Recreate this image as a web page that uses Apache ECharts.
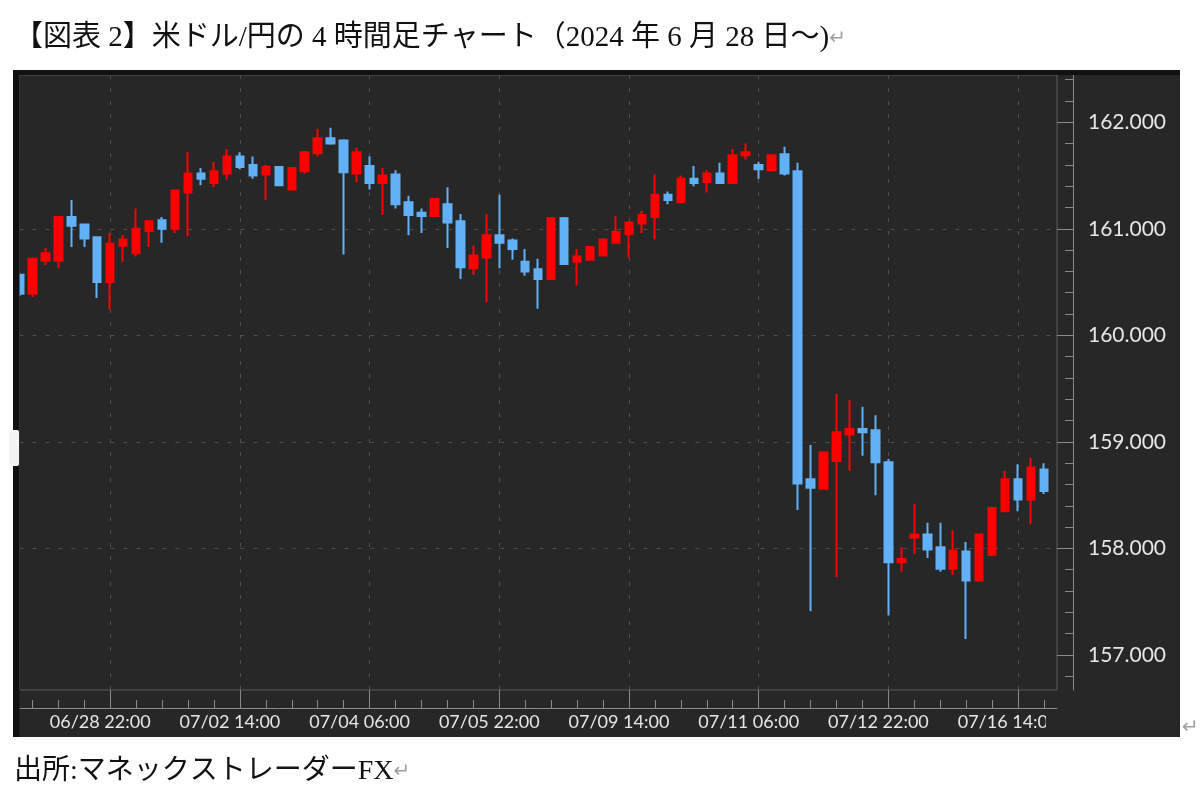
<!DOCTYPE html>
<html>
<head>
<meta charset="utf-8">
<title>米ドル/円 4時間足チャート</title>
<script src="https://cdn.jsdelivr.net/npm/echarts@6.0.0/dist/echarts.min.js"></script>
<style>
  html, body { margin: 0; padding: 0; background: #fff; }
  #chart { width: 1200px; height: 798px; }
</style>
</head>
<body>
<div id="chart"></div>
<script>
// 4時間足の時刻 (JST)
var times = [
  '06/27 18:00', '06/27 22:00', '06/28 02:00', '06/28 06:00', '06/28 10:00', '06/28 14:00', '06/28 18:00', '06/28 22:00',
  '06/29 02:00', '07/01 06:00', '07/01 10:00', '07/01 14:00', '07/01 18:00', '07/01 22:00', '07/02 02:00', '07/02 06:00',
  '07/02 10:00', '07/02 14:00', '07/02 18:00', '07/02 22:00', '07/03 02:00', '07/03 06:00', '07/03 10:00', '07/03 14:00',
  '07/03 18:00', '07/03 22:00', '07/04 02:00', '07/04 06:00', '07/04 10:00', '07/04 14:00', '07/04 18:00', '07/04 22:00',
  '07/05 02:00', '07/05 06:00', '07/05 10:00', '07/05 14:00', '07/05 18:00', '07/05 22:00', '07/06 02:00', '07/08 06:00',
  '07/08 10:00', '07/08 14:00', '07/08 18:00', '07/08 22:00', '07/09 02:00', '07/09 06:00', '07/09 10:00', '07/09 14:00',
  '07/09 18:00', '07/09 22:00', '07/10 02:00', '07/10 06:00', '07/10 10:00', '07/10 14:00', '07/10 18:00', '07/10 22:00',
  '07/11 02:00', '07/11 06:00', '07/11 10:00', '07/11 14:00', '07/11 18:00', '07/11 22:00', '07/12 02:00', '07/12 06:00',
  '07/12 10:00', '07/12 14:00', '07/12 18:00', '07/12 22:00', '07/13 02:00', '07/15 06:00', '07/15 10:00', '07/15 14:00',
  '07/15 18:00', '07/15 22:00', '07/16 02:00', '07/16 06:00', '07/16 10:00', '07/16 14:00', '07/16 18:00', '07/16 22:00'
];

var opens = [
  160.57, 160.39, 160.70, 160.70, 161.11, 161.04, 160.92, 160.50, 160.84, 160.77,
  160.98, 161.08, 161.00, 161.34, 161.52, 161.43, 161.52, 161.68, 161.60, 161.51,
  161.58, 161.37, 161.54, 161.71, 161.85, 161.83, 161.52, 161.59, 161.43, 161.51,
  161.25, 161.15, 161.12, 161.23, 161.07, 160.63, 160.73, 160.94, 160.89, 160.69,
  160.62, 160.53, 161.10, 160.69, 160.71, 160.75, 160.87, 160.95, 161.05, 161.11,
  161.32, 161.25, 161.47, 161.44, 161.52, 161.43, 161.69, 161.60, 161.55, 161.70,
  161.54, 158.65, 158.56, 158.82, 159.07, 159.12, 159.11, 158.81, 157.87, 158.10,
  158.13, 158.01, 157.81, 157.97, 157.70, 157.94, 158.35, 158.65, 158.46, 158.74
];
var closes = [
  160.39, 160.72, 160.77, 161.11, 161.03, 160.91, 160.50, 160.86, 160.90, 161.00,
  161.07, 161.00, 161.36, 161.52, 161.47, 161.54, 161.68, 161.58, 161.50, 161.58,
  161.41, 161.57, 161.72, 161.85, 161.80, 161.53, 161.72, 161.43, 161.50, 161.23,
  161.13, 161.12, 161.28, 161.06, 160.64, 160.75, 160.94, 160.87, 160.81, 160.60,
  160.53, 161.10, 160.67, 160.74, 160.83, 160.90, 160.97, 161.06, 161.13, 161.32,
  161.27, 161.47, 161.43, 161.52, 161.43, 161.69, 161.72, 161.56, 161.69, 161.52,
  158.61, 158.57, 158.90, 159.09, 159.12, 159.09, 158.81, 157.87, 157.90, 158.13,
  157.99, 157.81, 157.98, 157.70, 158.13, 158.38, 158.65, 158.46, 158.76, 158.54
];
var lows = [
  160.37, 160.36, 160.66, 160.63, 160.83, 160.83, 160.35, 160.24, 160.69, 160.74,
  160.83, 160.87, 160.96, 160.93, 161.41, 161.39, 161.46, 161.56, 161.47, 161.27,
  161.40, 161.36, 161.52, 161.68, 161.79, 160.76, 161.44, 161.37, 161.13, 161.19,
  160.94, 160.96, 161.12, 160.82, 160.53, 160.57, 160.31, 160.63, 160.71, 160.56,
  160.25, 160.52, 160.66, 160.47, 160.70, 160.74, 160.86, 160.73, 160.96, 160.90,
  161.23, 161.24, 161.40, 161.34, 161.43, 161.43, 161.65, 161.47, 161.54, 161.50,
  158.36, 157.41, 158.55, 157.73, 158.73, 158.87, 158.50, 157.37, 157.78, 157.95,
  157.91, 157.78, 157.75, 157.15, 157.70, 157.93, 158.35, 158.35, 158.23, 158.51
];
var highs = [
  160.58, 160.72, 160.82, 161.12, 161.27, 161.05, 160.93, 160.96, 160.94, 161.19,
  161.08, 161.11, 161.36, 161.72, 161.57, 161.63, 161.75, 161.72, 161.68, 161.60,
  161.59, 161.58, 161.73, 161.94, 161.95, 161.84, 161.76, 161.68, 161.57, 161.55,
  161.31, 161.19, 161.28, 161.39, 161.14, 160.84, 161.14, 161.32, 160.91, 160.81,
  160.72, 161.11, 161.11, 160.81, 160.83, 160.90, 161.12, 161.07, 161.17, 161.51,
  161.35, 161.50, 161.59, 161.55, 161.62, 161.75, 161.80, 161.63, 161.70, 161.77,
  161.62, 158.97, 158.90, 159.45, 159.39, 159.33, 159.25, 158.84, 158.01, 158.42,
  158.24, 158.24, 158.17, 158.06, 158.14, 158.39, 158.73, 158.79, 158.85, 158.80
];

var yTicks = [157, 158, 159, 160, 161, 162];
var yMin = 156.671;
var yMax = 162.444;

var upColor = '#ff0000';
var downColor = '#62b1f6';
var panelColor = '#272727';
var axisColor = '#8a8a8a';
var gridColor = '#4e4e4e';

// 目盛り: 10本ごとに時刻ラベル、2本ごとに小目盛
var firstLabel = 7;
function isMajor(idx) { return idx >= firstLabel && (idx - firstLabel) % 10 === 0; }
function isMinor(idx) { return idx % 2 === 1; }

var minorY = [];
for (var v = 1568; v <= 1624; v += 2) minorY.push(v / 10);

var candles = opens.map(function (o, i) {
  return [o, closes[i], lows[i], highs[i]];
});
// 右端の余白用に空のカテゴリを1つ追加
var cats = times.concat(['']);
candles.push('-');

var chart = echarts.init(document.getElementById('chart'));

var option = {
  backgroundColor: '#ffffff',
  animation: false,
  title: {
    text: '【図表 2】米ドル/円の 4 時間足チャート（2024 年 6 月 28 日～){m|↵}',
    left: 14,
    top: 24,
    padding: 0,
    textStyle: {
      fontFamily: "'Liberation Serif', 'Noto Sans CJK JP', serif",
      fontSize: 29,
      fontWeight: 'normal',
      color: '#111',
      rich: {
        m: { fontSize: 20, color: '#a0a0a0', fontFamily: 'DejaVu Sans' }
      }
    }
  },
  grid: {
    left: 19.4,
    right: 143,
    top: 75,
    bottom: 108,
    show: true,
    borderColor: '#5c5c5c',
    borderWidth: 1,
    backgroundColor: 'transparent'
  },
  xAxis: [{
    type: 'category',
    data: cats,
    boundaryGap: false,
    position: 'bottom',
    offset: 18,
    axisLine: { show: true, onZero: false, lineStyle: { color: axisColor, width: 1 } },
    axisTick: { show: true, inside: true, length: 18, interval: isMajor, lineStyle: { color: axisColor } },
    axisLabel: {
      interval: isMajor,
      color: '#e6e6e6',
      fontFamily: 'Lato',
      fontSize: 18,
      margin: 5,
      padding: [0, 20, 0, 0],
      hideOverlap: false
    },
    splitLine: {
      show: true,
      interval: isMajor,
      lineStyle: { color: gridColor, type: [4, 9], width: 1 }
    }
  }, {
    type: 'category',
    data: cats,
    boundaryGap: false,
    position: 'bottom',
    offset: 18,
    axisLine: { show: false, onZero: false },
    axisTick: { show: true, inside: true, length: 8, interval: isMinor, lineStyle: { color: axisColor } },
    axisLabel: { show: false },
    splitLine: { show: false }
  }],
  yAxis: [{
    type: 'value',
    position: 'right',
    offset: 16,
    min: yMin,
    max: yMax,
    scale: true,
    axisLine: { show: true, lineStyle: { color: axisColor, width: 1 } },
    axisTick: { show: true, inside: true, length: 16, customValues: yTicks, lineStyle: { color: axisColor } },
    axisLabel: {
      customValues: yTicks,
      formatter: function (val) { return val.toFixed(3); },
      color: '#e6e6e6',
      fontFamily: 'Lato',
      fontSize: 21,
      margin: 15
    },
    splitLine: {
      show: true,
      showMinLine: false,
      showMaxLine: false,
      lineStyle: { color: gridColor, type: [4, 9], width: 1 }
    }
  }, {
    type: 'value',
    position: 'right',
    offset: 16,
    min: yMin,
    max: yMax,
    scale: true,
    axisLine: { show: false },
    axisTick: { show: true, inside: true, length: 8, customValues: minorY, lineStyle: { color: axisColor } },
    axisLabel: { show: false },
    splitLine: { show: false }
  }],
  series: [{
    name: 'USD/JPY',
    type: 'candlestick',
    data: candles,
    barWidth: 8,
    clip: true,
    itemStyle: {
      color: upColor,
      color0: downColor,
      borderColor: upColor,
      borderColor0: downColor,
      borderWidth: 2
    }
  }],
  graphic: [
    { type: 'rect', z: -10, silent: true, shape: { x: 13, y: 70, width: 1167, height: 667 }, style: { fill: panelColor } },
    // 最終ラベルの右側は表示されない
    { type: 'rect', z: 100, silent: true, shape: { x: 1046, y: 710, width: 132, height: 27 }, style: { fill: panelColor } },
    { type: 'rect', z: 100, silent: true, shape: { x: 13, y: 70, width: 1167, height: 5 }, style: { fill: '#111' } },
    { type: 'rect', z: 100, silent: true, shape: { x: 13, y: 70, width: 6.5, height: 667 }, style: { fill: '#111' } },
    { type: 'rect', z: 101, silent: true, shape: { x: 9, y: 430, width: 10, height: 36, r: 2 }, style: { fill: '#f4f4f4' } },
    {
      type: 'text', z: 100, silent: true,
      style: { x: 1182, y: 728, text: '↵', fill: '#a0a0a0', font: '20px "DejaVu Sans"', verticalAlign: 'middle' }
    },
    {
      type: 'text', z: 100, silent: true,
      style: {
        x: 14, y: 772, verticalAlign: 'middle',
        text: '出所:マネックストレーダーFX{m|↵}',
        fill: '#111',
        font: "28px 'Liberation Serif', 'Noto Sans CJK JP', serif",
        rich: { m: { fontSize: 20, fill: '#a0a0a0', fontFamily: 'DejaVu Sans' } }
      }
    }
  ]
};

chart.setOption(option);
</script>
</body>
</html>
